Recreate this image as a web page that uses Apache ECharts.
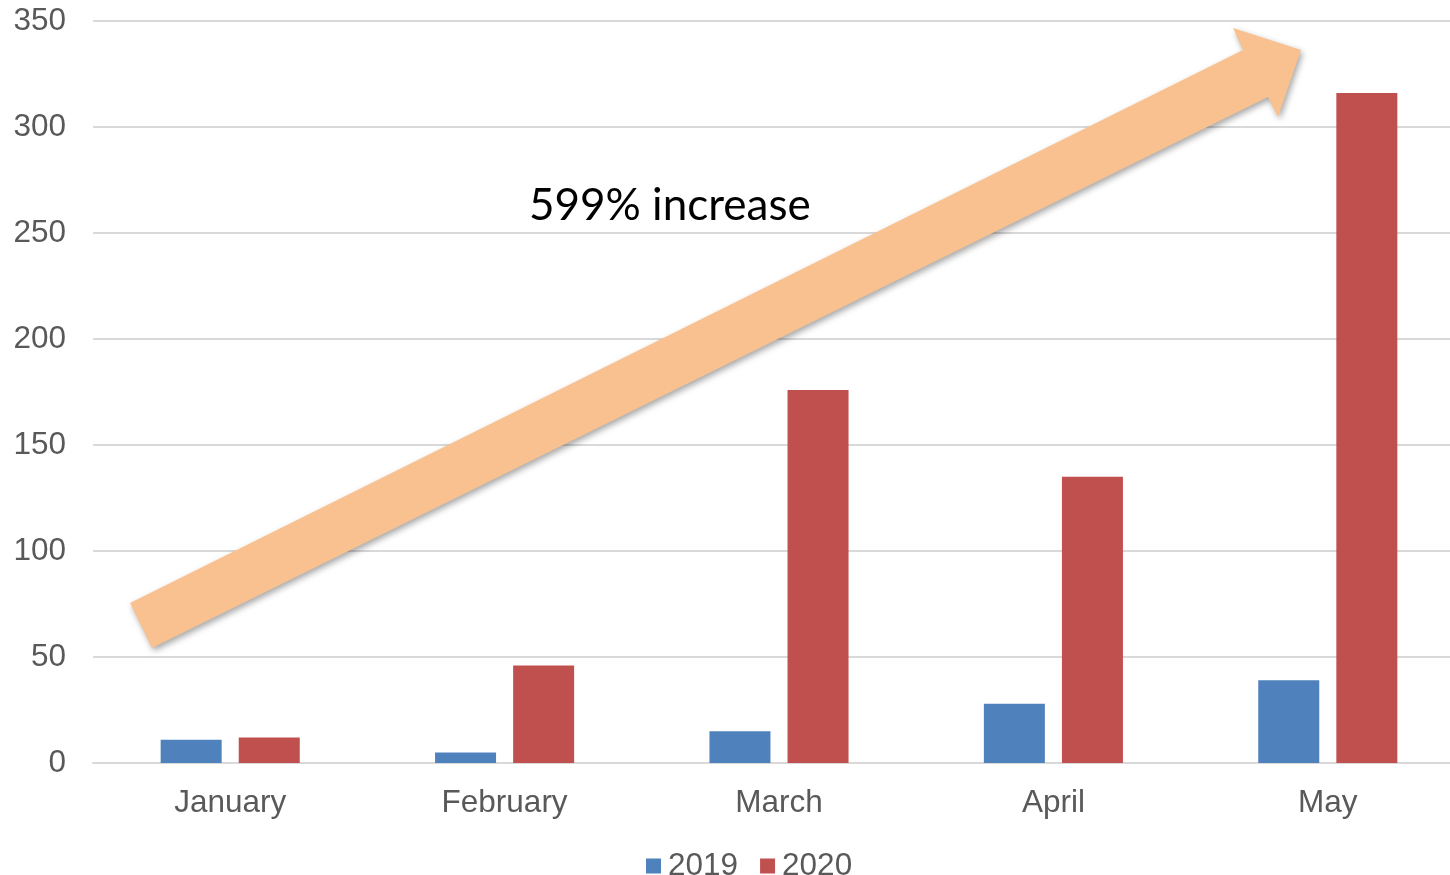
<!DOCTYPE html>
<html><head><meta charset="utf-8">
<script src="https://cdn.jsdelivr.net/npm/echarts@6/dist/echarts.min.js"></script>
<style>html,body{margin:0;padding:0;background:#fff}#c{width:1450px;height:875px}</style>
</head><body><div id="c"></div>
<script>
const categories = ['January', 'February', 'March', 'April', 'May'];
const series2019 = [11, 5, 15, 28, 39];
const series2020 = [12, 46, 176, 135, 316];
const yTicks = [0, 50, 100, 150, 200, 250, 300, 350];
const annotationText = '599% increase';

const chart = echarts.init(document.getElementById('c'));
const lbl = {color: '#595959', fontSize: 31.5, fontFamily: '"Liberation Sans", Arial, sans-serif'};
chart.setOption({
  animation: false,
  grid: {left: 93, width: 1372, top: 21, height: 742, containLabel: false, outerBoundsMode: 'none'},
  legend: {
    data: ['2019', '2020'], top: 845, left: 641,
    itemWidth: 15, itemHeight: 15, itemGap: 22, icon: 'rect',
    textStyle: Object.assign({}, lbl, {padding: [0, 0, 0, 2]})
  },
  xAxis: {
    type: 'category', data: categories,
    axisLine: {lineStyle: {color: '#d9d9d9', width: 2}},
    axisTick: {show: false},
    axisLabel: Object.assign({margin: 24}, lbl)
  },
  yAxis: {
    type: 'value', min: yTicks[0], max: yTicks[yTicks.length - 1], interval: 50,
    axisLine: {show: false}, axisTick: {show: false},
    splitLine: {lineStyle: {color: '#d9d9d9', width: 2}},
    axisLabel: Object.assign({margin: 27, padding: [3, 0, 0, 0]}, lbl)
  },
  series: [
    {name: '2019', type: 'bar', data: series2019, barWidth: 61, barGap: '28%', itemStyle: {color: '#4F81BD'}},
    {name: '2020', type: 'bar', data: series2020, barWidth: 61, itemStyle: {color: '#C0504D'}}
  ],
  graphic: [
    {
      type: 'polygon', z: 10,
      shape: {points: [[130, 603], [1243, 50], [1233, 28], [1301, 50], [1278, 117], [1268, 97], [152, 648]]},
      style: {fill: '#F9C18F', shadowBlur: 6, shadowColor: 'rgba(0,0,0,0.35)', shadowOffsetX: 2, shadowOffsetY: 3}
    },
    {
      type: 'text', z: 11, left: 529, top: 184,
      style: {text: annotationText, fill: '#000', fontSize: 44, fontFamily: 'Lato, "Open Sans", sans-serif'}
    }
  ]
});
</script></body></html>
